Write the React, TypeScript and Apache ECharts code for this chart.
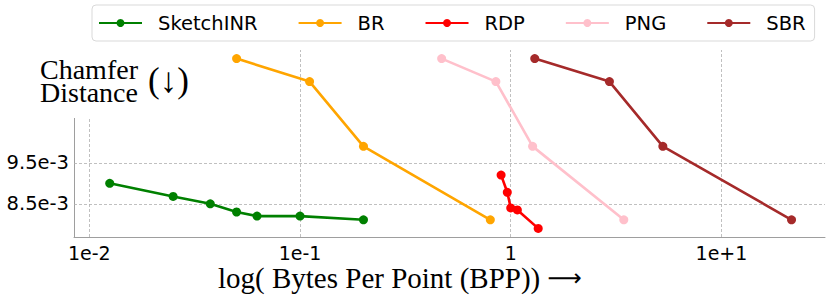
import React, { useEffect, useRef } from 'react';
import * as echarts from 'echarts';

const seriesNames = ['SketchINR', 'BR', 'RDP', 'PNG', 'SBR'];
const seriesColors = ['#008000', '#FFA500', '#FF0000', '#FFC0CB', '#A52A2A'];

const bppSketchINR = [0.0125, 0.025, 0.0375, 0.05, 0.0625, 0.1, 0.2];
const cdSketchINR = [0.0090, 0.00868, 0.0085, 0.0083, 0.0082, 0.0082, 0.00811];

const bppBR = [0.05, 0.111, 0.2, 0.8];
const cdBR = [0.01204, 0.01148, 0.0099, 0.00811];

const bppRDP = [0.9, 0.963, 1.0, 1.075, 1.35];
const cdRDP = [0.0092, 0.00878, 0.0084, 0.00835, 0.0079];

const bppPNG = [0.47, 0.85, 1.27, 3.44];
const cdPNG = [0.01204, 0.01148, 0.0099, 0.00811];

const bppSBR = [1.3, 2.94, 5.27, 21.5];
const cdSBR = [0.01204, 0.01148, 0.0099, 0.00811];

const xTickValues = [0.01, 0.1, 1, 10];
const xTickLabels = ['1e-2', '1e-1', '1', '1e+1'];
const yTickValues = [0.0085, 0.0095];
const yTickLabels = ['8.5e-3', '9.5e-3'];

const xLabelText = 'log( Bytes Per Point (BPP)) ';
const xLabelArrow = '\u27F6';
const yLabelText = 'Chamfer\nDistance';
const yLabelArrow = '(\u2193)';

export default function App() {
  const ref = useRef<HTMLDivElement>(null);
  useEffect(() => {
    const chart = echarts.init(ref.current!, null, { renderer: 'svg' });
    const xs = [bppSketchINR, bppBR, bppRDP, bppPNG, bppSBR];
    const ys = [cdSketchINR, cdBR, cdRDP, cdPNG, cdSBR];
    const gridStyle = { color: '#b0b0b0', type: [3, 2] as any, width: 0.8 };
    const series: any[] = seriesNames.map((name, k) => ({
      type: 'line',
      name,
      data: xs[k].map((x, i) => [x, ys[k][i]]),
      symbol: 'circle',
      symbolSize: 9,
      lineStyle: { color: seriesColors[k], width: 2.6 },
      itemStyle: { color: seriesColors[k] },
      z: 3,
      ...(k === 0
        ? {
            markLine: {
              silent: true,
              symbol: 'none',
              precision: 8,
              z: 1,
              label: { show: false },
              lineStyle: gridStyle,
              emphasis: { disabled: true },
              data: [
                ...xTickValues.map((v) => ({ xAxis: v })),
                ...yTickValues.map((v) => ({ yAxis: v })),
              ],
            },
          }
        : {}),
    }));

    const findLabel = (v: number, vals: number[], labels: string[], rel: boolean) => {
      for (let i = 0; i < vals.length; i++) {
        const d = rel ? Math.abs(v / vals[i] - 1) : Math.abs(v - vals[i]);
        if (d < 1e-6) return labels[i];
      }
      return '';
    };

    chart.setOption({
      animation: false,
      grid: { left: 74, right: 6, top: 50, bottom: 69, containLabel: false },
      legend: {
        data: seriesNames,
        left: 92,
        top: 5,
        itemWidth: 43,
        itemHeight: 10,
        itemGap: 40,
        padding: [8, 9, 8, 6],
        borderColor: '#d9d9d9',
        borderWidth: 1,
        borderRadius: 4,
        backgroundColor: '#ffffff',
        textStyle: {
          fontFamily: 'DejaVu Sans',
          fontSize: 19.5,
          color: '#000',
          padding: [0, 0, 0, 11],
        },
      },
      xAxis: {
        type: 'log',
        logBase: 10,
        min: 0.00846,
        max: 31.0,
        axisLine: { show: true, lineStyle: { color: '#9e9e9e', width: 1 } },
        axisTick: { show: false },
        splitLine: { show: false },
        axisLabel: {
          formatter: (v: number) => findLabel(v, xTickValues, xTickLabels, true),
          fontFamily: 'DejaVu Sans',
          fontSize: 19,
          color: '#000',
          margin: 6,
        },
      },
      yAxis: {
        type: 'value',
        min: 0.00769,
        max: 0.01225,
        axisLine: { show: true, lineStyle: { color: '#9e9e9e', width: 1 } },
        axisTick: { show: false },
        splitLine: { show: false },
        axisLabel: {
          customValues: yTickValues,
          formatter: (v: number) => findLabel(v, yTickValues, yTickLabels, false),
          fontFamily: 'DejaVu Sans',
          fontSize: 19.5,
          color: '#000',
          margin: 5,
        },
      },
      graphic: [
        {
          type: 'rect',
          left: 30,
          top: 46,
          shape: { width: 170, height: 72 },
          style: { fill: '#ffffff' },
          z: 100,
        },
        {
          type: 'text',
          x: 40,
          y: 80.5,
          z: 101,
          style: {
            text: yLabelText,
            fontFamily: 'Liberation Serif',
            fontSize: 28,
            lineHeight: 23,
            fill: '#000',
            verticalAlign: 'middle',
          },
        },
        {
          type: 'text',
          x: 148,
          y: 80,
          z: 101,
          style: {
            text: yLabelArrow,
            fontFamily: 'Liberation Serif',
            fontSize: 35,
            fill: '#000',
            verticalAlign: 'middle',
          },
        },
        {
          type: 'text',
          x: 218,
          y: 278,
          z: 101,
          style: {
            text: '{a|' + xLabelText + '}{b|' + xLabelArrow + '}',
            verticalAlign: 'middle',
            rich: {
              a: { fontFamily: 'Liberation Serif', fontSize: 29, color: '#000' },
              b: { fontFamily: 'DejaVu Sans', fontSize: 24, color: '#000' },
            },
          },
        },
      ],
      series,
    });
    return () => chart.dispose();
  }, []);
  return (
    <div
      ref={ref}
      style={{ position: 'fixed', left: 0, top: 0, width: 831, height: 306, background: '#fff' }}
    />
  );
}
